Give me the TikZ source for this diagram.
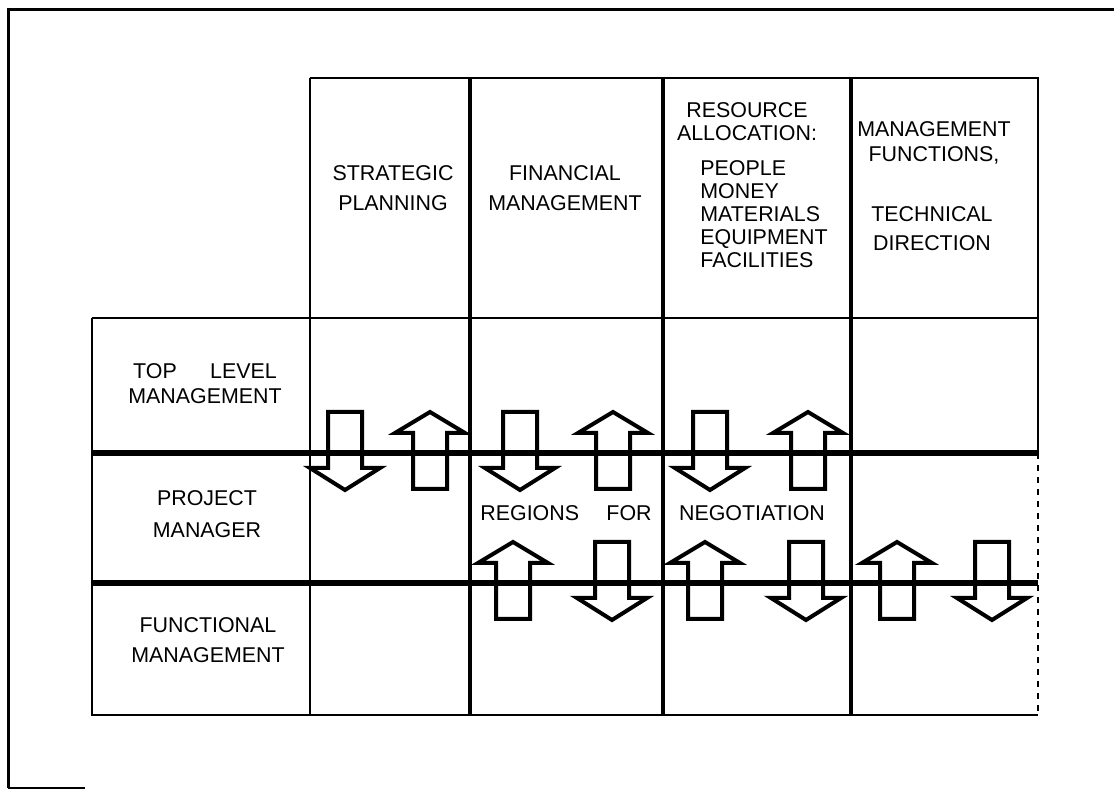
\documentclass[tikz,border=0pt]{standalone}
\usepackage{fontspec}
\setmainfont{Liberation Sans}
\begin{document}
\begin{tikzpicture}[x=0.5pt,y=-0.5pt,
  lbl/.style={font=\fontsize{10.7}{15}\selectfont,align=center,inner sep=0pt},
  thin/.style={line width=1pt},
  bar/.style={line width=3pt},
  divider/.style={line width=2pt},
  blk/.style={line width=2pt,line join=miter},
  dnarr/.pic={\draw[blk] (-17,-41) -- (17,-41) -- (17,15) -- (35,15) -- (0,37) -- (-35,15) -- (-17,15) -- cycle;},
  uparr/.pic={\draw[blk] (0,-41) -- (35,-20) -- (17,-20) -- (17,36) -- (-17,36) -- (-17,-20) -- (-35,-20) -- cycle;}]
\useasboundingbox (0,0) rectangle (1114,790);
% page frame
\draw[line width=1.5pt] (8,788) -- (8,10) -- (1114,10);
\draw[thin] (8,788) -- (85,788);
% table grid
\coordinate (NW) at (310,78);
\coordinate (NE) at (1038,78);
\draw[thin] (NW) -- (NE) -- (1038,453);
\draw[thin,dashed] (1038,453) -- (1038,715);
\draw[thin] (92,318) -- (1038,318);
\draw[thin] (92,318) -- (92,715) -- (1038,715);
\draw[thin] (NW) -- (310,715);
\foreach \x in {470,663,851}
  \draw[divider] (\x,78) -- (\x,715);
\draw[bar] (92,453) -- (1038,453);
\draw[bar] (92,583) -- (1038,583);
% column heads
\node[lbl] (strat) at (393,188) {STRATEGIC\\PLANNING};
\node[lbl] (fin) at (565,188) {FINANCIAL\\MANAGEMENT};
\node[lbl,font=\fontsize{10.7}{11.5}\selectfont] (res) at (747,122) {RESOURCE\\ALLOCATION:};
\node[lbl,align=left,anchor=north west,font=\fontsize{10.7}{11.5}\selectfont] (items) at (700,160)
  {PEOPLE\\MONEY\\MATERIALS\\EQUIPMENT\\FACILITIES};
\node[lbl,font=\fontsize{10.7}{12.5}\selectfont] (mgmt) at (934,143) {MANAGEMENT\\FUNCTIONS,};
\node[lbl,font=\fontsize{10.7}{14.5}\selectfont] (tech) at (932,229) {TECHNICAL\\DIRECTION};
% row heads
\node[lbl,font=\fontsize{10.7}{12.5}\selectfont] (top) at (205,384) {TOP\quad\ \ LEVEL\\MANAGEMENT};
\node[lbl,font=\fontsize{10.7}{16}\selectfont] (pm) at (207,514) {PROJECT\\MANAGER};
\node[lbl] (func) at (208,640) {FUNCTIONAL\\MANAGEMENT};
% negotiation text
\node[lbl,anchor=west] (regions) at (480,513) {REGIONS\quad\ FOR};
\node[lbl] (nego) at (752,513) {NEGOTIATION};
% arrows across the levels
\foreach \x in {345,520,710}
  \pic at (\x,453) {dnarr};
\foreach \x in {430,613,808}
  \pic at (\x,453) {uparr};
\foreach \x in {513,705,897}
  \pic at (\x,583) {uparr};
\foreach \x in {612,806,992}
  \pic at (\x,583) {dnarr};
\end{tikzpicture}
\end{document}
